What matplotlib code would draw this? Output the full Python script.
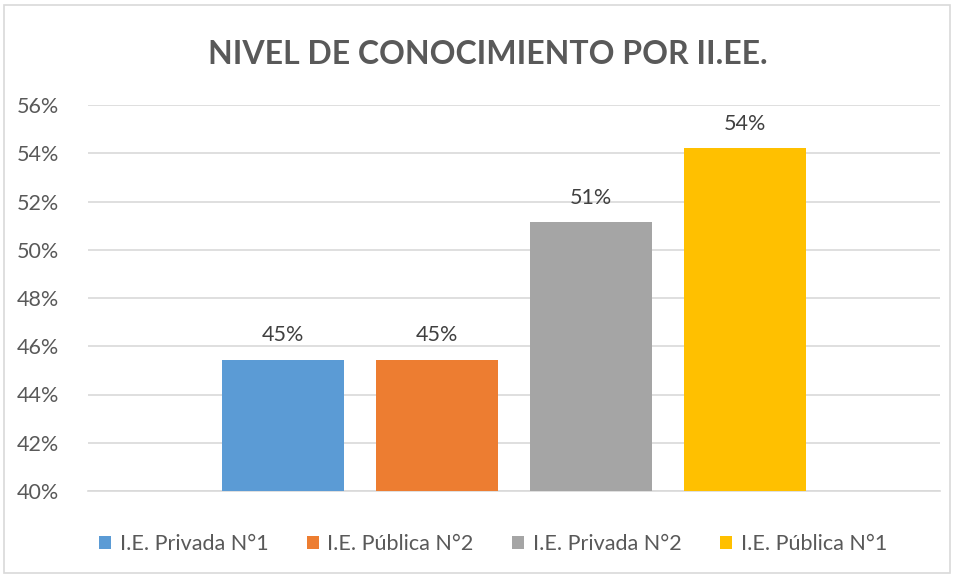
import matplotlib
matplotlib.use("Agg")
import matplotlib.pyplot as plt
from matplotlib.patches import Rectangle

title = "NIVEL DE CONOCIMIENTO POR II.EE."
series = ["I.E. Privada N°1", "I.E. Pública N°2", "I.E. Privada N°2", "I.E. Pública N°1"]
values = [45.45, 45.45, 51.13, 54.21]
labels = ["45%", "45%", "51%", "54%"]
colors = ["#5B9BD5", "#ED7D31", "#A5A5A5", "#FFC000"]
yticks = [40, 42, 44, 46, 48, 50, 52, 54, 56]

plt.rcParams['font.family'] = ['Lato', 'DejaVu Sans']

W, H = 957, 578
fig = plt.figure(figsize=(W/100, H/100), dpi=100)
fig.patches.append(Rectangle((4/W, 5/H), 946/W, 568/H, transform=fig.transFigure,
                             fill=False, edgecolor="#d9d9d9", linewidth=1.2))

ax = fig.add_axes([88/W, 1-491/H, (940-88)/W, (491-105)/H])
width = 122/852
step = 154/852
offsets = [(-1.5 + i) * step for i in range(4)]
for i, (s, v, lab, c) in enumerate(zip(series, values, labels, colors)):
    ax.bar(offsets[i], v - 40, bottom=40, width=width, color=c, label=s, zorder=3)
    ax.text(offsets[i], v + 0.6, lab, ha="center", va="bottom", fontsize=15.5, color="#404040")

ax.set_xlim(-0.5, 0.5)
ax.set_ylim(40, 56)
ax.set_yticks(yticks)
ax.set_yticklabels([f"{t}%" for t in yticks], fontsize=15.5, color="#595959")
ax.set_xticks([])
ax.tick_params(axis="y", length=0, pad=21)
ax.grid(axis="y", color="#d9d9d9", linewidth=1.2, zorder=0)
for sp in ["left", "right", "top"]:
    ax.spines[sp].set_visible(False)
ax.spines["bottom"].set_color("#d9d9d9")
ax.spines["bottom"].set_linewidth(1.2)

fig.text(488/W, 1-54/H, title, ha="center", va="center", fontsize=23, fontweight="bold", color="#595959")

fig.legend(loc="center", bbox_to_anchor=(493/W, 1-544/H), ncol=4, frameon=False,
           fontsize=15.5, labelcolor="#595959", handlelength=0.55, handleheight=0.55,
           handletextpad=0.4, columnspacing=1.8)

fig.savefig("out.png", dpi=100)
